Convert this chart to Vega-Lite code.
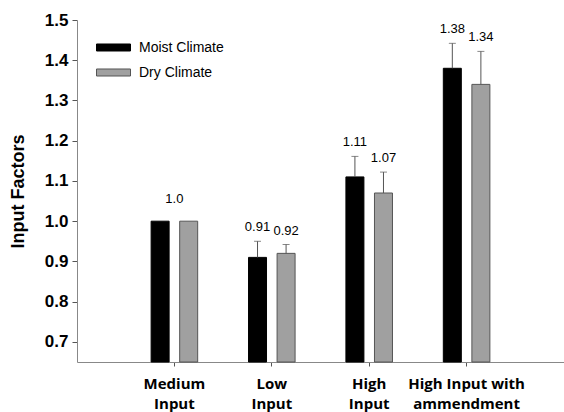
{
  "$schema": "https://vega.github.io/schema/vega-lite/v6.json",
  "autosize": {"type": "none"},
  "padding": {"left": 77, "top": 20, "right": 0, "bottom": 50},
  "width": 487,
  "height": 342,
  "background": "white",
  "config": {"view": {"stroke": null}},
  "datasets": {
    "bars": [
      {"cat": "Medium Input", "climate": "Moist Climate", "value": 1.0, "hi": null, "label": null},
      {"cat": "Medium Input", "climate": "Dry Climate", "value": 1.0, "hi": null, "label": null},
      {"cat": "Low Input", "climate": "Moist Climate", "value": 0.91, "hi": 0.95, "label": "0.91"},
      {"cat": "Low Input", "climate": "Dry Climate", "value": 0.92, "hi": 0.942, "label": "0.92"},
      {"cat": "High Input", "climate": "Moist Climate", "value": 1.11, "hi": 1.161, "label": "1.11"},
      {"cat": "High Input", "climate": "Dry Climate", "value": 1.07, "hi": 1.122, "label": "1.07"},
      {"cat": "High Input with ammendment", "climate": "Moist Climate", "value": 1.38, "hi": 1.442, "label": "1.38"},
      {"cat": "High Input with ammendment", "climate": "Dry Climate", "value": 1.34, "hi": 1.422, "label": "1.34"}
    ],
    "mid": [
      {"cat": "Medium Input", "value": 1.0, "label": "1.0"}
    ]
  },
  "encoding": {
    "x": {
      "field": "cat", "type": "nominal",
      "scale": {"domain": ["Medium Input", "Low Input", "High Input", "High Input with ammendment"], "paddingInner": 0, "paddingOuter": 0.5},
      "axis": {
        "title": null, "labelAngle": 0, "domainColor": "#888", "tickColor": "#555", "tickSize": 4,
        "labelFont": "Open Sans", "labelFontWeight": "bold", "labelFontSize": 15, "labelColor": "#000",
        "labelLineHeight": 20, "labelPadding": 10,
        "labelExpr": "datum.value == 'High Input with ammendment' ? ['High Input with', 'ammendment'] : split(datum.value, ' ')"
      }
    }
  },
  "layer": [
    {
      "mark": {"type": "rule", "color": "#666", "strokeDash": [1.5, 2.5], "strokeWidth": 1},
      "encoding": {"y": {"datum": 1.0, "type": "quantitative", "scale": {"domain": [0.65, 1.5], "nice": false, "zero": false}}, "x": null}
    },
    {
      "mark": {"type": "rule", "color": "#888", "strokeWidth": 1},
      "encoding": {"y": {"datum": 1.5, "type": "quantitative"}, "x": null}
    },
    {
      "data": {"name": "bars"},
      "mark": {"type": "bar", "strokeWidth": 1},
      "encoding": {
        "xOffset": {"field": "climate", "type": "nominal", "scale": {"domain": ["Moist Climate", "Dry Climate"], "paddingInner": 0.37, "paddingOuter": 0.89}},
        "y": {
          "field": "value", "type": "quantitative",
          "scale": {"domain": [0.65, 1.5], "nice": false, "zero": false},
          "axis": {
            "title": "Input Factors", "titleFont": "Liberation Sans", "titleFontSize": 18, "titleFontWeight": "bold", "titleColor": "#000", "titlePadding": 17,
            "values": [0.7, 0.8, 0.9, 1.0, 1.1, 1.2, 1.3, 1.4, 1.5], "format": ".1f", "grid": false,
            "labelFont": "Liberation Sans", "labelFontSize": 17, "labelFontWeight": "bold", "labelColor": "#000",
            "domainColor": "#888", "tickColor": "#555", "tickSize": 5, "labelPadding": 4
          }
        },
        "y2": {"datum": 0.65},
        "fill": {
          "field": "climate", "type": "nominal",
          "scale": {"domain": ["Moist Climate", "Dry Climate"], "range": ["#000000", "#a0a0a0"]},
          "legend": {
            "title": null, "orient": "none", "legendX": 19, "legendY": 10, "padding": 0,
            "symbolType": "M-1,-0.206H1V0.206H-1Z", "symbolSize": 1156, "symbolStrokeColor": "#333", "symbolStrokeWidth": 1,
            "labelFont": "Liberation Sans", "labelFontSize": 14, "labelColor": "#000", "labelOffset": 8, "rowPadding": -4
          }
        },
        "stroke": {"field": "climate", "type": "nominal", "scale": {"domain": ["Moist Climate", "Dry Climate"], "range": ["#000000", "#555555"]}, "legend": null}
      }
    },
    {
      "data": {"name": "bars"},
      "transform": [{"filter": "datum.hi != null"}],
      "mark": {"type": "rule", "color": "#555", "strokeWidth": 1},
      "encoding": {
        "xOffset": {"field": "climate", "type": "nominal", "scale": {"domain": ["Moist Climate", "Dry Climate"]}},
        "y": {"field": "value", "type": "quantitative"},
        "y2": {"field": "hi"}
      }
    },
    {
      "data": {"name": "bars"},
      "transform": [{"filter": "datum.hi != null"}],
      "mark": {"type": "tick", "color": "#555", "size": 7, "thickness": 1},
      "encoding": {
        "xOffset": {"field": "climate", "type": "nominal", "scale": {"domain": ["Moist Climate", "Dry Climate"]}},
        "y": {"field": "hi", "type": "quantitative"}
      }
    },
    {
      "data": {"name": "bars"},
      "transform": [{"filter": "datum.label != null"}],
      "mark": {"type": "text", "font": "Liberation Sans", "fontSize": 13, "color": "#000", "dy": -10, "baseline": "alphabetic"},
      "encoding": {
        "xOffset": {"field": "climate", "type": "nominal", "scale": {"domain": ["Moist Climate", "Dry Climate"]}},
        "y": {"field": "hi", "type": "quantitative"},
        "text": {"field": "label"}
      }
    },
    {
      "data": {"name": "mid"},
      "mark": {"type": "text", "font": "Liberation Sans", "fontSize": 13, "color": "#000", "dy": -18, "baseline": "alphabetic"},
      "encoding": {
        "y": {"field": "value", "type": "quantitative"},
        "text": {"field": "label"}
      }
    }
  ]
}
